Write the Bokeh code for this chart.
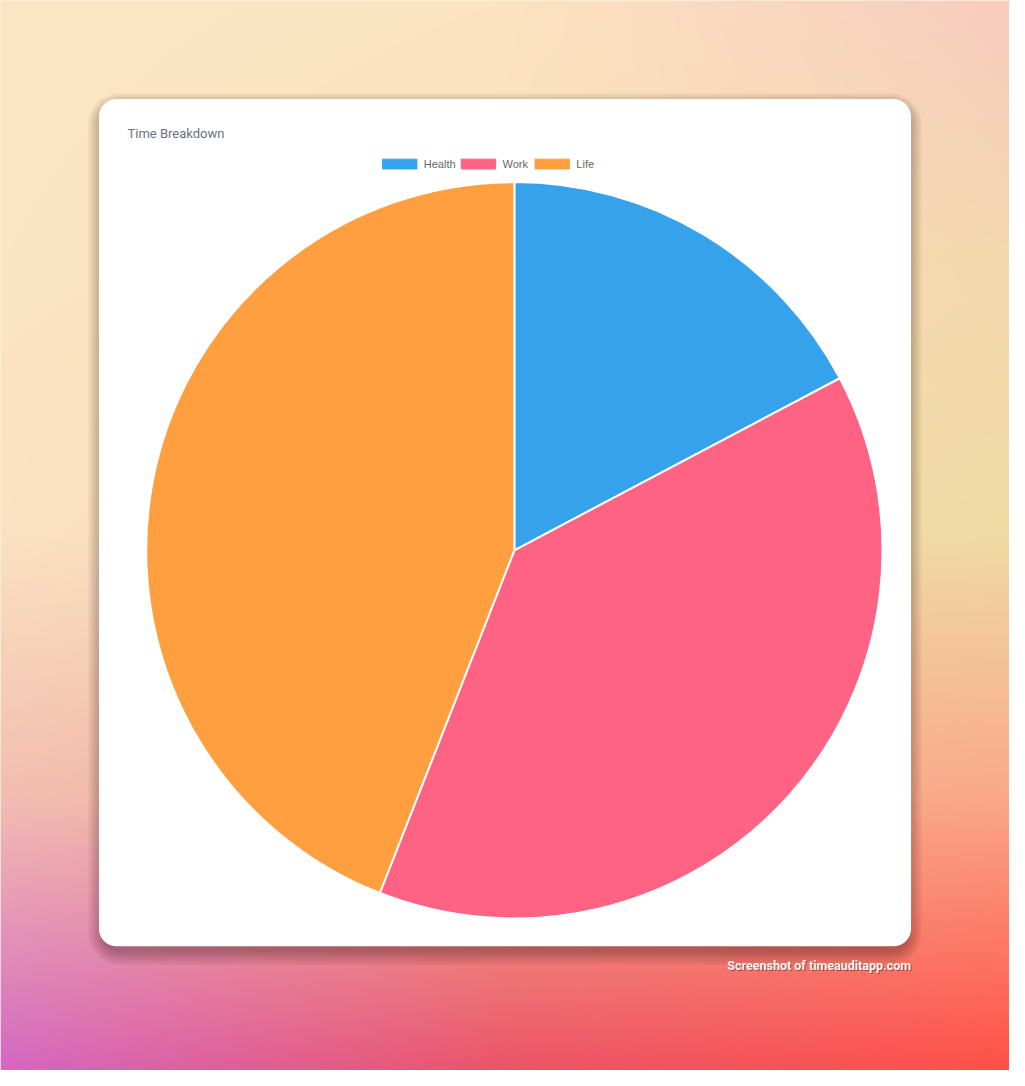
import numpy as np
from bokeh.plotting import figure
from bokeh.models import Range1d, ColumnDataSource
from bokeh.core.properties import value
from bokeh.embed import file_html
from bokeh.resources import INLINE

# ---- data ----
categories = ["Health", "Work", "Life"]
hours = [29, 65, 74]
colors = ["#36A2EB", "#FF6384", "#FF9F40"]
title_text = "Time Breakdown"
footer_text = "Screenshot of timeauditapp.com"

# ---- page geometry (data coords == reference px, y flipped) ----
W, H = 1009, 1070
REF_W, REF_H = 1025, 1086


def sy(y):
    return REF_H - np.asarray(y, dtype=float)


p = figure(width=W, height=H, x_range=Range1d(0, REF_W), y_range=Range1d(0, REF_H),
           output_backend="svg", toolbar_location=None, min_border=0,
           x_axis_location=None, y_axis_location=None)
p.grid.visible = False
p.outline_line_color = None
p.border_fill_color = "#FCE6C4"
p.background_fill_color = "#FCE6C4"

# ---- background gradient ----
grid_ys = np.array([0, 270, 540, 810, 1086], dtype=float)
grid_xs = np.array([0, 512, 1025], dtype=float)
grid_cols = [
    ["#FCE6C4", "#FCE4C0", "#F8CCC0"],
    ["#FCE5C3", "#F9E1B8", "#F3D8AC"],
    ["#FBE2C2", "#F5DAB0", "#EFDBA4"],
    ["#F3BDB2", "#F2B290", "#FBA888"],
    ["#D468C2", "#EC5468", "#FF5048"],
]
rgb = np.array([[[int(c[i:i + 2], 16) for i in (1, 3, 5)] for c in row] for row in grid_cols], dtype=float)
nx, ny = 513, 543
X = np.linspace(0, REF_W, nx)
Yscreen = REF_H - np.linspace(0, REF_H, ny)
img = np.empty((ny, nx), dtype=np.uint32)
view = img.view(dtype=np.uint8).reshape((ny, nx, 4))
for ch in range(3):
    rx = np.array([np.interp(X, grid_xs, rgb[r, :, ch]) for r in range(len(grid_ys))])
    full = np.array([np.interp(Yscreen, grid_ys, rx[:, j]) for j in range(nx)]).T
    view[:, :, ch] = np.clip(full, 0, 255).astype(np.uint8)
view[:, :, 3] = 255
p.image_rgba(image=[img], x=0, y=0, dw=REF_W, dh=REF_H)


def rounded(x0, y0, x1, y1, r, n=10):
    xs, ys = [], []
    corners = [(x1 - r, y0 + r, -90, 0), (x1 - r, y1 - r, 0, 90),
               (x0 + r, y1 - r, 90, 180), (x0 + r, y0 + r, 180, 270)]
    for cx, cy, a0, a1 in corners:
        t = np.radians(np.linspace(a0, a1, n))
        xs.extend(cx + r * np.cos(t))
        ys.extend(cy + r * np.sin(t))
    return list(xs), list(sy(ys))


# ---- card shadow + card ----
cx0, cy0, cx1, cy1, cr = 100, 100, 925, 960, 18
for k in range(11):
    e = k * 1.4
    xs, ys = rounded(cx0 - e + 3, cy0 - e + 8, cx1 + e - 3, cy1 + e + 5, cr + e)
    p.patch(xs, ys, fill_color="#3a1a10", fill_alpha=0.034, line_color=None)
xs, ys = rounded(cx0, cy0, cx1, cy1, cr)
p.patch(xs, ys, fill_color="white", line_color=None)

# ---- pie ----
total = float(sum(hours))
cum = np.concatenate([[0.0], np.cumsum(hours)])
start = np.pi / 2 - 2 * np.pi * cum[:-1] / total
end = np.pi / 2 - 2 * np.pi * cum[1:] / total
src = ColumnDataSource(dict(category=categories, hours=hours, color=colors,
                            start=start, end=end))
p.wedge(x=522, y=float(sy(558)), radius=374, start_angle="start", end_angle="end",
        direction="clock", fill_color="color", line_color="white", line_width=2,
        source=src)

# ---- legend ----
legend_box_x = [388, 468, 543]
box_w, box_h = 35, 10
leg_y = float(sy(166))
lsrc = ColumnDataSource(dict(
    x=[bx + box_w / 2 for bx in legend_box_x], tx=[bx + box_w + 7 for bx in legend_box_x],
    y=[leg_y] * 3, label=categories, color=colors))
p.rect(x="x", y="y", width=box_w, height=box_h, fill_color="color", line_color="color",
       line_width=1, source=lsrc)
p.text(x="tx", y="y", text="label", text_font=value("Liberation Sans"), text_font_size="11px",
       text_color="#666666", text_baseline="middle", text_align="left", source=lsrc)

# ---- title ----
p.text(x=[129], y=[float(sy(135))], text=[title_text], text_font=value("Roboto"),
       text_font_size="13px", text_color="#6B7280", text_baseline="middle", text_align="left")

# ---- footer ----
fy = float(sy(979))
p.text(x=[926], y=[fy - 1], text=[footer_text], text_font=value("Roboto"),
       text_font_size="12.5px", text_font_style="bold", text_color="#3a1a1a", text_alpha=0.5,
       text_baseline="middle", text_align="right")
p.text(x=[925], y=[fy], text=[footer_text], text_font=value("Roboto"),
       text_font_size="12.5px", text_font_style="bold", text_color="#FFF4F0",
       text_baseline="middle", text_align="right")

open("out.html", "w").write(file_html(p, INLINE))
